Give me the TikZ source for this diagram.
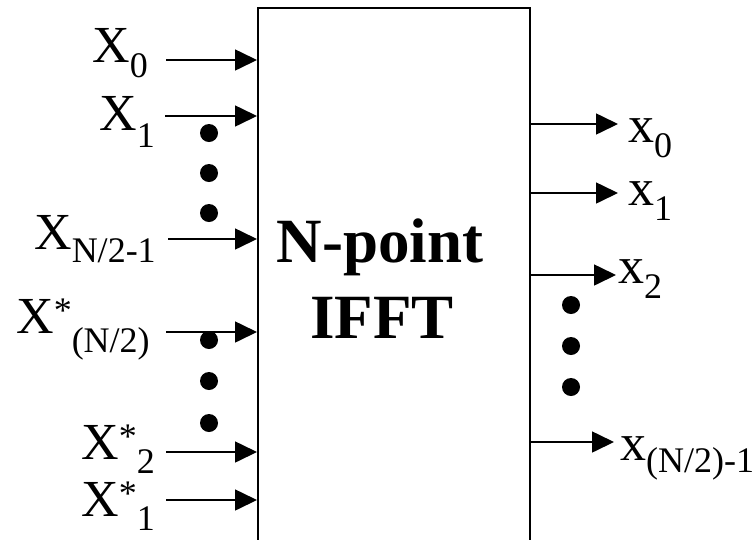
\documentclass[tikz,border=0pt]{standalone}
\usepackage{fontspec}
\setmainfont{Liberation Serif}
\usetikzlibrary{arrows.meta}

\newcommand\lo[2][15pt]{\raisebox{-#1}{\fontsize{36}{38}\selectfont #2}}
\newcommand\cj{\raisebox{11pt}{\fontsize{36}{38}\selectfont *}}

\begin{document}
\begin{tikzpicture}[x=1pt, y=-1pt, font=\fontsize{52}{56}\selectfont]
  \tikzset{sig/.style={-{Triangle[length=22pt,width=21pt]}, line width=1.6pt},
    lab/.style={anchor=base west, inner sep=0pt},
    dot/.style={circle, fill, inner sep=0pt, minimum size=18pt}}
  \useasboundingbox (0,0) rectangle (754,539);
  % the transform block
  \node[draw, line width=1.8pt, anchor=north west, inner sep=0pt,
    minimum width=272pt, minimum height=600pt] (ifft) at (257,7) {};
  \node[anchor=base, font=\fontsize{63}{70}\selectfont\bfseries] (np) at (380,262) {N-point};
  \node[anchor=base, font=\fontsize{63}{70}\selectfont\bfseries] (tr) at (382,338) {IFFT};
  % inputs
  \node[lab] (X0) at (92,62) {X\lo{0}};
  \node[lab] (X1) at (99,130) {X\lo[17pt]{1}};
  \node[lab] (Xm) at (34,249) {X\lo[13pt]{N/2-1}};
  \node[lab] (Xc) at (16,333) {X\cj\lo[19pt]{(N/2)}};
  \node[lab] (Xc2) at (81,459) {X\cj\lo[14pt]{2}};
  \node[lab] (Xc1) at (81,516) {X\cj\lo[14pt]{1}};
  \coordinate (i0) at (166,60);
  \coordinate (i1) at (165,116);
  \coordinate (im) at (168,239);
  \coordinate (ic) at (166,332);
  \coordinate (ic2) at (166,452);
  \coordinate (ic1) at (166,500);
  \foreach \p in {i0,i1,im,ic,ic2,ic1}
    \draw[sig] (\p) -- (\p -| ifft.west);
  \foreach \y [count=\k] in {133,173,213,340,381,423}
    \node[dot] (ld\k) at (209,\y) {};
  % outputs
  \coordinate (o0) at (618,124);
  \coordinate (o1) at (618,193);
  \coordinate (o2) at (616,275);
  \coordinate (on) at (614,442);
  \foreach \p in {o0,o1,o2,on}
    \draw[sig] (\p -| ifft.east) -- (\p);
  \node[lab] (x0) at (628,142) {x\lo{0}};
  \node[lab] (x1) at (628,205) {x\lo{1}};
  \node[lab] (x2) at (618,283) {x\lo{2}};
  \node[lab] (xn) at (620,460) {x\lo[12pt]{(N/2)-1}};
  \foreach \y [count=\k] in {305,346,387}
    \node[dot] (rd\k) at (571,\y) {};
\end{tikzpicture}
\end{document}
